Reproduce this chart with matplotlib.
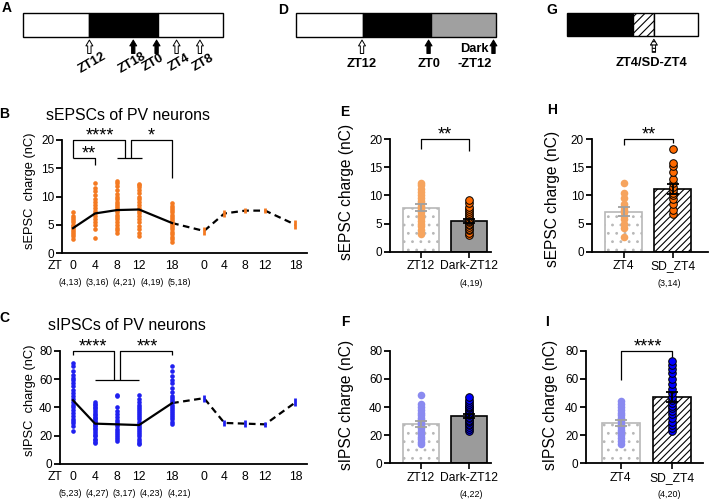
import numpy as np
import matplotlib
matplotlib.use('Agg')
import matplotlib.pyplot as plt
from matplotlib.patches import Rectangle

plt.rcParams['font.family'] = ['Liberation Sans', 'DejaVu Sans']
plt.rcParams['hatch.linewidth'] = 0.8

# ---------------- data ----------------
zt_ticks = ['0', '4', '8', '12', '18', '0', '4', '8', '12', '18']
n_B = ['(4,13)', '(3,16)', '(4,21)', '(4,19)', '(5,18)']
n_C = ['(5,23)', '(4,27)', '(3,17)', '(4,23)', '(4,21)']

# sEPSC charge (nC), single cells per time point
sepsc_zt0 = [2.5, 3.0, 3.4, 3.8, 4.1, 4.4, 4.7, 5.0, 5.4, 5.8, 6.2, 6.6, 7.3]
sepsc_zt4 = [2.7, 4.3, 5.0, 5.5, 6.0, 6.5, 7.0, 7.5, 8.0, 8.5, 9.0, 9.5, 10.2, 11.0, 11.5, 12.4]
sepsc_zt8 = [3.6, 4.0, 4.5, 5.0, 5.5, 6.0, 6.4, 6.8, 7.2, 7.6, 8.0, 8.3, 8.7, 9.0, 9.5, 10.0,
             10.5, 11.2, 11.8, 12.4, 12.8]
sepsc_zt12 = [3.0, 3.5, 4.2, 4.8, 5.4, 6.0, 6.5, 7.0, 7.5, 8.0, 8.5, 9.0, 9.5, 10.0, 10.6, 11.2,
              11.7, 12.0, 12.3]
sepsc_zt18 = [2.0, 2.4, 2.8, 3.3, 3.8, 4.2, 4.6, 5.0, 5.3, 5.6, 6.0, 6.4, 6.8, 7.2, 7.6, 8.0, 8.4, 8.9]
sepsc_mean = [4.4, 7.0, 7.6, 7.7, 5.3]
sepsc_dp_mean = [3.9, 7.0, 7.5, 7.5, 5.0]   # double plotted day
sepsc_dp_sem = [0.7, 0.6, 0.5, 0.5, 0.8]

# sIPSC charge (nC)
sipsc_zt0 = [23.5, 27, 29, 30.5, 32, 34, 36, 38, 40, 42, 44, 46, 48, 50, 52, 55, 57, 59, 61, 63, 66, 69, 71]
sipsc_zt4 = [14.5, 15.5, 17, 18, 19.5, 20.5, 22, 23, 24.5, 25.5, 26.5, 27.5, 28.5, 29.5, 30.5, 31.5,
             32.5, 33.5, 34.5, 35.5, 37, 38, 39.5, 40.5, 41.5, 42.5, 43.5]
sipsc_zt8 = [16, 17.5, 19, 20.5, 22, 23.5, 25, 26.5, 28, 29.5, 31, 33, 35, 37.5, 40, 48, 49]
sipsc_zt12 = [14, 15, 16.5, 18, 19.5, 21, 22.5, 24, 25.5, 27, 28.5, 30, 31.5, 33, 34.5, 36, 37.5, 39,
              40.5, 42, 44, 46, 48.5]
sipsc_zt18 = [28, 30, 31.5, 33, 34.5, 36, 37.5, 39, 40.5, 42, 43.5, 45, 46.5, 48, 51, 54, 57, 59, 62, 66, 69]
sipsc_mean = [45, 28.5, 28, 27.5, 43]
sipsc_dp_mean = [46.5, 29, 28.5, 28, 43.5]
sipsc_dp_sem = [2.5, 2.0, 2.3, 2.0, 2.8]

# E / F : ZT12 vs Dark-ZT12
ef_labels = ['ZT12', 'Dark-ZT12']
e_zt12 = [3.2, 3.8, 4.5, 5.0, 5.5, 6.0, 6.5, 7.0, 7.4, 7.8, 8.2, 8.6, 9.0, 9.5, 10.0, 10.6, 11.2, 11.8, 12.2]
e_dark = [3.0, 3.4, 3.8, 4.1, 4.4, 4.7, 5.0, 5.2, 5.5, 5.7, 5.9, 6.2, 6.5, 6.8, 7.2, 7.6, 8.0, 8.6, 9.2]
e_bar = [7.8, 5.5]
e_sem = [0.6, 0.4]
f_zt12 = [13.5, 15, 17, 19, 21, 23, 25, 26.5, 28, 29.5, 31, 32.5, 34, 36, 38, 40, 42, 48.5]
f_dark = [23, 24.5, 26, 27, 28, 29, 30, 31, 32, 33, 34, 35, 36, 37, 38, 39, 40, 41, 42, 43.5, 45, 47]
f_bar = [28, 33.5]
f_sem = [2.4, 1.4]

# H / I : ZT4 vs SD_ZT4
hi_labels = ['ZT4', 'SD_ZT4']
h_zt4 = [2.7, 4.3, 5.0, 5.8, 6.3, 7.0, 7.4, 8.0, 8.5, 9.5, 10.4, 12.3]
h_sd = [6.7, 7.5, 8.5, 9.3, 10.0, 10.5, 11.0, 11.6, 12.3, 13.0, 14.2, 15.2, 15.7, 18.2]
h_bar = [7.1, 11.2]
h_sem = [0.8, 0.9]
i_zt4 = [14, 16, 18, 20, 22, 24, 26, 28, 30, 32, 34, 36, 38, 40, 42, 44]
i_sd = [23, 25, 27, 29, 32, 35, 37, 39, 41, 43, 45, 47, 50, 53, 56, 60, 64, 67, 70, 73]
i_bar = [28.5, 47]
i_sem = [2.3, 3.4]

# colours
orange = '#f47a22'
light_orange = '#f6a45e'
dark_orange = '#ff6a00'
blue = '#2020f0'
light_blue = '#8a8af0'
dark_blue = '#0000ff'

W, H = 709, 500
fig = plt.figure(figsize=(W / 100, H / 100), dpi=100)


def px_axes(x0, y0, x1, y1):
    # axes placed from pixel box (top-left origin)
    return fig.add_axes([x0 / W, 1 - y1 / H, (x1 - x0) / W, (y1 - y0) / H])


def ftext(x, y, s, **kw):
    return fig.text(x / W, 1 - y / H, s, **kw)


def style_axis(ax, ymax, ystep, lsize=8.5):
    for s in ['top', 'right']:
        ax.spines[s].set_visible(False)
    for s in ['left', 'bottom']:
        ax.spines[s].set_linewidth(1.3)
    ax.set_ylim(0, ymax)
    ax.set_yticks(np.arange(0, ymax + 1, ystep))
    ax.tick_params(axis='y', length=4, width=1.3, labelsize=lsize, pad=1.5)
    ax.patch.set_visible(False)


def bracket(ax, xs, ys, lw=0.9):
    ax.plot(xs, ys, color='black', lw=lw, clip_on=False, solid_capstyle='butt')


def stars(ax, x, y, s, size=13):
    ax.text(x, y, s, ha='center', va='baseline', fontsize=size, clip_on=False)


# ---------------- schematics A, D, G ----------------
def schematic(rect, total, segments):
    ax = px_axes(*rect)
    ax.set_xlim(0, total)
    ax.set_ylim(0, 1)
    ax.axis('off')
    for start, end, face, hatch in segments:
        ax.add_patch(Rectangle((start, 0), end - start, 1, facecolor=face, edgecolor='black',
                               lw=1.0, hatch=hatch, clip_on=False))
    return ax


def sch_arrow(ax, x, filled, hatch=None):
    ax.annotate('', xy=(x, -0.14), xytext=(x, -0.70), annotation_clip=False,
                arrowprops=dict(arrowstyle='simple,head_length=0.42,head_width=0.5,tail_width=0.24',
                                fc='black' if filled else 'white', ec='black', lw=0.7,
                                mutation_scale=10, shrinkA=0, shrinkB=0, hatch=hatch))


axA = schematic((22.7, 12.7, 222.7, 36.7), 36, [(0, 12, 'white', None), (12, 24.3, 'black', None),
                                               (24.3, 36, 'white', None)])
for h, lab, filled, tx in [(12, 'ZT12', False, 12.5), (19.9, 'ZT18', True, 19.7), (24.1, 'ZT0', True, 23.5),
                           (27.7, 'ZT4', False, 28.2), (31.9, 'ZT8', False, 32.5)]:
    sch_arrow(axA, h, filled)
    axA.text(tx, -1.1, lab, rotation=30, ha='center', va='center', fontsize=9.3,
             fontweight='bold', clip_on=False)

axD = schematic((296, 12.7, 495.7, 36.7), 36, [(0, 12, 'white', None), (12, 24.3, 'black', None),
                                              (24.3, 36, '#a0a0a0', None)])
sch_arrow(axD, 11.9, False)
sch_arrow(axD, 23.9, True)
sch_arrow(axD, 35.6, True)
axD.text(11.9, -1.14, 'ZT12', ha='center', va='center', fontsize=9.3, fontweight='bold')
axD.text(23.9, -1.14, 'ZT0', ha='center', va='center', fontsize=9.3, fontweight='bold')
axD.text(32.2, -0.5, 'Dark', ha='center', va='center', fontsize=9.3, fontweight='bold')
axD.text(32.3, -1.14, '-ZT12', ha='center', va='center', fontsize=9.3, fontweight='bold')

axG = schematic((566.7, 12.7, 698.3, 36.0), 24, [(0, 12, 'black', None), (12, 15.9, 'white', '////'),
                                                (15.9, 24, 'white', None)])
sch_arrow(axG, 15.9, False, hatch='-----')
axG.text(15.5, -1.17, 'ZT4/SD-ZT4', ha='center', va='center', fontsize=9.3, fontweight='bold')

# ---------------- B / C time courses ----------------
pos = [0, 4, 8, 12, 18]
pos2 = [23.8, 27.5, 31.3, 34.9, 40.4]
n_pos = [-0.5, 4.4, 9.3, 14.3, 19.3]


def time_course(rect, xlim, ymax, ystep, groups, mean, dp_mean, dp_sem, color, n_labels):
    ax = px_axes(*rect)
    style_axis(ax, ymax, ystep)
    ax.set_xlim(*xlim)
    for p, vals in zip(pos, groups):
        ax.scatter([p] * len(vals), vals, s=11, color=color, linewidths=0, zorder=3, clip_on=False)
    ax.plot(pos, mean, color='black', lw=1.6, zorder=4)
    ax.plot([pos[-1]] + pos2, [mean[-1]] + dp_mean, color='black', lw=1.6, ls=(0, (3, 2)), zorder=2)
    ax.errorbar(pos2, dp_mean, yerr=dp_sem, fmt='none', ecolor=color, elinewidth=2, capsize=0, zorder=5)
    ax.set_xticks(pos + pos2, zt_ticks)
    ax.tick_params(axis='x', length=0, labelsize=8.7, pad=5)
    for p, n in zip(n_pos, n_labels):
        ax.text(p, -0.26, n, transform=ax.get_xaxis_transform(), ha='center', va='center', fontsize=6.4)
    ax.text(-3.2, -0.112, 'ZT', transform=ax.get_xaxis_transform(), ha='center', va='center', fontsize=8.7)
    return ax


axB = time_course((62, 140, 307, 253), (-2.0, 42.5), 20, 5,
                  [sepsc_zt0, sepsc_zt4, sepsc_zt8, sepsc_zt12, sepsc_zt18],
                  sepsc_mean, sepsc_dp_mean, sepsc_dp_sem, orange, n_B)
bracket(axB, [0, 0, 9.5, 9.5], [16.8, 20, 20, 16.8])
bracket(axB, [10.5, 10.5, 18, 18], [16.8, 20, 20, 13.2])
bracket(axB, [0, 4, 4], [16.8, 16.8, 15.6])
bracket(axB, [7.9, 12.5], [16.8, 16.8])
stars(axB, 4.9, 19.9, '****')
stars(axB, 2.9, 16.7, '**')
stars(axB, 14.2, 19.9, '*')

axC = time_course((60, 350.7, 307, 464), (-2.36, 42.5), 80, 20,
                  [sipsc_zt0, sipsc_zt4, sipsc_zt8, sipsc_zt12, sipsc_zt18],
                  sipsc_mean, sipsc_dp_mean, sipsc_dp_sem, blue, n_C)
bracket(axC, [0, 0, 7.45, 7.45], [77, 80, 80, 59.3])
bracket(axC, [8.5, 8.5, 18, 18], [59.3, 80, 80, 77])
bracket(axC, [4, 12], [59.3, 59.3])
stars(axC, 3.65, 79.6, '****')
stars(axC, 13.5, 79.6, '***')


# ---------------- bar panels ----------------
def bar_panel(rect, xlim, ymax, ystep, bars, sems, pts1, pts2, c1, c2, second, labels, n_label, n_x):
    ax = px_axes(*rect)
    style_axis(ax, ymax, ystep)
    ax.set_xlim(*xlim)
    ax.bar(0, bars[0], width=0.75, color='white', edgecolor='#b8b8b8', hatch='..', lw=1.2, zorder=1)
    if second == 'gray':
        ax.bar(1, bars[1], width=0.75, color='#9b9b9b', edgecolor='black', lw=1.2, zorder=1)
    else:
        ax.bar(1, bars[1], width=0.75, color='white', edgecolor='black', hatch='/////', lw=1.2, zorder=1)
    ax.scatter([0] * len(pts1), pts1, s=30, color=c1, linewidths=0, zorder=3)
    ax.scatter([1] * len(pts2), pts2, s=30, color=c2, edgecolors='black', linewidths=0.7, zorder=3)
    ax.errorbar([0], [bars[0]], yerr=[sems[0]], fmt='none', ecolor='#a0a0a0', elinewidth=1.3,
                capsize=4, capthick=1.3, zorder=4)
    ax.errorbar([1], [bars[1]], yerr=[sems[1]], fmt='none', ecolor='black', elinewidth=1.3,
                capsize=4, capthick=1.3, zorder=4)
    ax.set_xticks([0, 1], labels)
    ax.tick_params(axis='x', length=4, width=1.2, labelsize=8.7, pad=2)
    ax.text(n_x, -0.28, n_label, transform=ax.get_xaxis_transform(), ha='center', va='center', fontsize=6.4)
    return ax


axE = bar_panel((390, 139.3, 491, 251.7), (-0.646, 1.458), 20, 5, e_bar, e_sem, e_zt12, e_dark,
                light_orange, dark_orange, 'gray', ef_labels, '(4,19)', 1.05)
bracket(axE, [0, 0, 1, 1], [18.2, 20, 20, 18.0])
stars(axE, 0.5, 19.9, '**')

axF = bar_panel((390, 350.7, 491, 463.3), (-0.646, 1.458), 80, 20, f_bar, f_sem, f_zt12, f_dark,
                light_blue, dark_blue, 'gray', ef_labels, '(4,22)', 1.05)

axH = bar_panel((591.7, 139.3, 708, 251.7), (-0.646, 1.71), 20, 5, h_bar, h_sem, h_zt4, h_sd,
                light_orange, dark_orange, 'hatch', hi_labels, '(3,14)', 0.92)
bracket(axH, [0, 0, 1, 1], [19.0, 20, 20, 19.3])
stars(axH, 0.51, 19.9, '**')

axI = bar_panel((586, 350.7, 703, 463.3), (-0.684, 1.615), 80, 20, i_bar, i_sem, i_zt4, i_sd,
                light_blue, dark_blue, 'hatch', hi_labels, '(4,20)', 0.96)
bracket(axI, [0, 0, 1, 1], [59.2, 80, 80, 75.7])
stars(axI, 0.53, 79.6, '****')

# ---------------- titles, y labels, panel letters ----------------
ftext(128, 115, 'sEPSCs of PV neurons', ha='center', va='center', fontsize=11.4)
ftext(127, 325, 'sIPSCs of PV neurons', ha='center', va='center', fontsize=11.4)

for x, y, s, fs in [(30, 190.5, 'sEPSC  charge (nC)', 9.3), (29.5, 400, 'sIPSC  charge (nC)', 9.3),
                    (347, 192, 'sEPSC charge (nC)', 11.2), (347, 405, 'sIPSC charge (nC)', 11.2),
                    (552, 198.5, 'sEPSC charge (nC)', 11.2), (550, 405, 'sIPSC charge (nC)', 11.2)]:
    ftext(x, y, s, rotation=90, ha='center', va='center', fontsize=fs)

for x, y, s in [(7, 8, 'A'), (4, 114, 'B'), (4, 318.5, 'C'), (283, 9.5, 'D'), (345, 112, 'E'),
                (345.5, 322.5, 'F'), (551.5, 9.5, 'G'), (552, 110, 'H'), (546.5, 322.5, 'I')]:
    ftext(x, y, s, ha='center', va='center', fontsize=10, fontweight='bold')

fig.savefig('out.png', dpi=100)
